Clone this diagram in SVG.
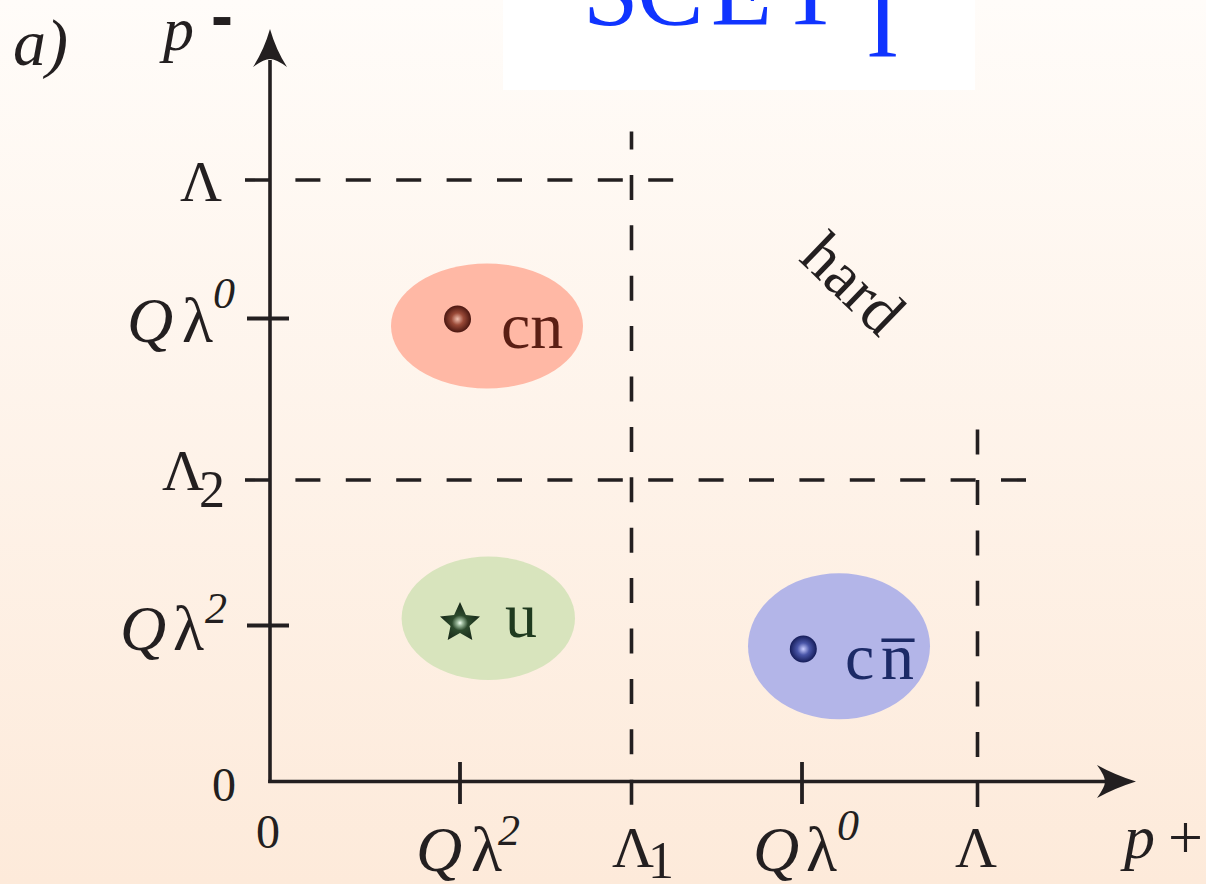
<svg xmlns="http://www.w3.org/2000/svg" width="1206" height="884" viewBox="0 0 1206 884">
<defs>
<linearGradient id="bg" x1="0" y1="0" x2="0" y2="1">
<stop offset="0" stop-color="#fffcf9"/>
<stop offset="1" stop-color="#fdeada"/>
</linearGradient>
<radialGradient id="ballRed" cx="0.5" cy="0.5" r="0.5">
<stop offset="0" stop-color="#f0c0b0"/>
<stop offset="0.45" stop-color="#9a4a38"/>
<stop offset="1" stop-color="#4a1610"/>
</radialGradient>
<radialGradient id="ballBlue" cx="0.5" cy="0.5" r="0.5">
<stop offset="0" stop-color="#c8ccff"/>
<stop offset="0.45" stop-color="#4a56a8"/>
<stop offset="1" stop-color="#151c58"/>
</radialGradient>
<radialGradient id="starG" cx="0.5" cy="0.55" r="0.5">
<stop offset="0" stop-color="#f0fff0"/>
<stop offset="0.15" stop-color="#9ab89a"/>
<stop offset="0.4" stop-color="#2c4a2c"/>
<stop offset="1" stop-color="#18291a"/>
</radialGradient>
<style>
.ax{stroke:#231f20;stroke-width:3.6;fill:none}
.tick{stroke:#231f20;stroke-width:3.8;fill:none}
.dash{stroke:#231f20;stroke-width:3.6;fill:none;stroke-dasharray:25 25.4}
.arr{fill:#231f20;stroke:none}
text{font-family:"Liberation Serif","Times New Roman",serif;fill:#231f20}
.lbl{font-size:58px}
.q{font-size:64px}
.it{font-style:italic}
.sup{font-size:44px}
.sub{font-size:52px}
.num{font-size:48px}
</style>
</defs>
<rect x="0" y="0" width="1206" height="884" fill="url(#bg)"/>

<g id="title">
<rect x="503" y="0" width="472" height="90" fill="#ffffff"/>
<text font-size="100" style="fill:#1034ff"><tspan x="583 637 711 780" y="24">SCET</tspan><tspan x="866" y="56">I</tspan></text>
</g>

<g id="panel-label">
<text class="it" x="13" y="65" font-size="66">a)</text>
</g>

<g id="connectors">
<line class="ax" x1="270" y1="60" x2="270" y2="783"/>
<line class="ax" x1="268.2" y1="781.5" x2="1110" y2="781.5"/>
<path class="arr" d="M270,29 Q276,50 287,67 Q276,59 270,59 Q264,59 253,67 Q264,50 270,29 Z"/>
<path class="arr" d="M1136,781.5 Q1115,788 1097,798 Q1105,787 1105,781.5 Q1105,776 1097,765 Q1115,775 1136,781.5 Z"/>
<line class="tick" x1="247" y1="318.5" x2="289" y2="318.5"/>
<line class="tick" x1="247" y1="625.5" x2="289" y2="625.5"/>
<line class="tick" x1="460" y1="762" x2="460" y2="804"/>
<line class="tick" x1="802" y1="762" x2="802" y2="804"/>
<line class="dash" x1="245" y1="180" x2="675" y2="180"/>
<line class="dash" x1="245" y1="480" x2="1030" y2="480"/>
<line class="dash" x1="631.5" y1="131.5" x2="631.5" y2="806" stroke-dashoffset="7"/>
<line class="dash" x1="977.5" y1="429.6" x2="977.5" y2="807"/>
</g>

<g id="axis-labels">
<text class="it" x="163" y="50" font-size="62">p</text>
<text x="211" y="38" font-size="66" font-weight="bold" style="font-family:'Liberation Sans',Arial,sans-serif">-</text>
<text class="lbl" x="180" y="201">Λ</text>
<text class="q"><tspan class="it" x="127" y="342">Q</tspan><tspan x="182" y="342">λ</tspan><tspan class="it sup" x="213" y="308">0</tspan></text>
<text class="lbl"><tspan x="162" y="490">Λ</tspan><tspan class="sub" x="199" y="507">2</tspan></text>
<text class="q"><tspan class="it" x="120" y="650">Q</tspan><tspan x="173" y="650">λ</tspan><tspan class="it sup" x="205" y="623">2</tspan></text>
<text class="num" x="212" y="801">0</text>
<text class="num" x="256" y="848">0</text>
<text class="q"><tspan class="it" x="416" y="871">Q</tspan><tspan x="471" y="871">λ</tspan><tspan class="it sup" x="498" y="845">2</tspan></text>
<text class="lbl"><tspan x="612" y="867">Λ</tspan><tspan class="sub" x="648" y="878">1</tspan></text>
<text class="q"><tspan class="it" x="753" y="871">Q</tspan><tspan x="806" y="871">λ</tspan><tspan class="it sup" x="837" y="840">0</tspan></text>
<text class="lbl" x="955" y="867">Λ</text>
<text x="1124" y="858" font-size="62"><tspan class="it">p</tspan><tspan x="1168">+</tspan></text>
</g>

<g id="node-cn">
<ellipse cx="487" cy="326" rx="96" ry="62.5" fill="#ffb8a5"/>
<circle cx="457.5" cy="319" r="13.5" fill="url(#ballRed)"/>
<text x="501" y="348" font-size="66" style="fill:#5a1e14">cn</text>
</g>

<g id="node-u">
<ellipse cx="488.3" cy="618.3" rx="86.7" ry="61.7" fill="#d8e4bd"/>
<path d="M460,602 L465.9,614.9 L480,616.5 L469.5,626.1 L472.3,640 L460,633 L447.7,640 L450.5,626.1 L440,616.5 L454.1,614.9 Z" fill="url(#starG)"/>
<text x="505" y="637" font-size="64" style="fill:#1f3a1f">u</text>
</g>

<g id="node-cnbar">
<ellipse cx="839" cy="646.3" rx="91" ry="73" fill="#b3b5e8"/>
<circle cx="803.3" cy="649" r="13.5" fill="url(#ballBlue)"/>
<text x="845" y="679" font-size="66" style="fill:#1c2a66"><tspan>c</tspan><tspan x="881">n̅</tspan></text>
</g>

<g id="region-hard">
<text transform="translate(853,284) rotate(44)" x="0" y="21" text-anchor="middle" font-size="64">hard</text>
</g>
</svg>
